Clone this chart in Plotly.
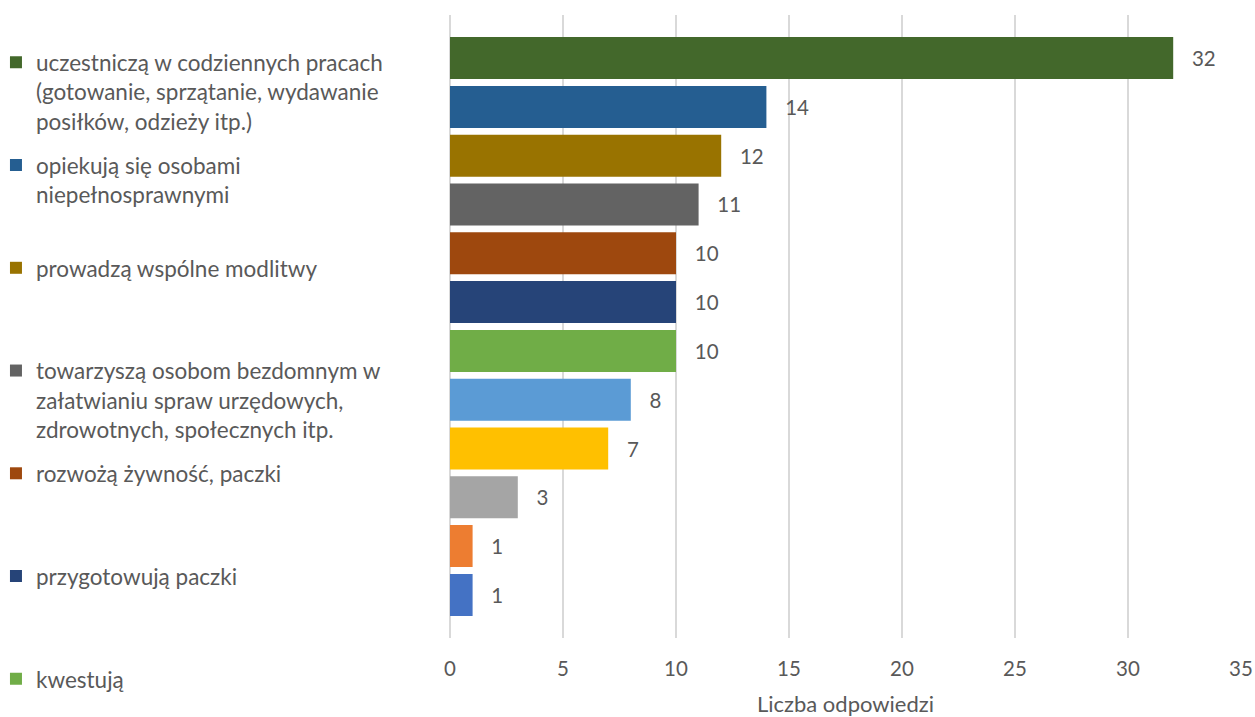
import plotly.graph_objects as go

# Series in Excel order (first = bottom bar)
names = [
    "", "", "", "", "",
    "kwestują",
    "przygotowują paczki",
    "rozwożą żywność, paczki",
    "towarzyszą osobom bezdomnym w<br>załatwianiu spraw urzędowych,<br>zdrowotnych, społecznych itp.",
    "prowadzą wspólne modlitwy",
    "opiekują się osobami<br>niepełnosprawnymi",
    "uczestniczą w codziennych pracach<br>(gotowanie, sprzątanie, wydawanie<br>posiłków, odzieży itp.)",
]
values = [1, 1, 3, 7, 8, 10, 10, 10, 11, 12, 14, 32]
colors = ["#4472C4", "#ED7D31", "#A5A5A5", "#FFC000", "#5B9BD5", "#70AD47",
          "#264478", "#9E480E", "#636363", "#997300", "#255E91", "#43682B"]
show_in_legend = [False, False, False, False, False, True, True, True, True, True, True, True]
category = [""]
xticks = [0, 5, 10, 15, 20, 25, 30, 35]
axis_title = "Liczba odpowiedzi"

FONT = "Lato"
TXT = "#595959"

def pad(label, lines=3):
    n = label.count("<br>") + 1
    return label + "<br>\u00a0" * max(0, lines - n)

fig = go.Figure()
for i, (n, v, c, s) in enumerate(zip(names, values, colors, show_in_legend)):
    legend_name = n if n == "kwestują" else pad(n)
    fig.add_trace(go.Bar(
        x=[v], y=category, orientation="h", name=legend_name,
        marker=dict(color=c, line=dict(width=0)),
        text=[v], texttemplate="\u00a0\u00a0\u00a0%{text}", textposition="outside",
        textfont=dict(family=FONT, size=20.5, color=TXT),
        cliponaxis=False,
        showlegend=s, legendgroup=f"g{i}", legendrank=1000 - i,
    ))

fig.update_layout(
    width=1255, height=717,
    barmode="group", bargap=0.06, bargroupgap=0.14,
    paper_bgcolor="white", plot_bgcolor="white",
    margin=dict(l=450, r=14, t=15, b=79, autoexpand=False),
    font=dict(family=FONT, size=20, color=TXT),
    legend=dict(
        xref="paper", yref="paper", x=-0.574, y=0.958,
        xanchor="left", yanchor="top", maxheight=717,
        traceorder="grouped", tracegroupgap=12, valign="top",
        font=dict(family=FONT, size=22.5, color=TXT),
        bgcolor="rgba(0,0,0,0)", borderwidth=0,
    ),
    xaxis=dict(
        range=[0, 35], tickvals=xticks, showgrid=True, gridcolor="#D9D9D9", gridwidth=2,
        zeroline=True, zerolinecolor="#D9D9D9", zerolinewidth=2,
        showline=False, ticks="", ticklabelstandoff=16, automargin=False,
        tickfont=dict(family=FONT, size=20.5, color=TXT),
        title=dict(text=axis_title, standoff=19, font=dict(family=FONT, size=22, color=TXT)),
    ),
    yaxis=dict(showticklabels=False, showgrid=False, zeroline=False, showline=False, ticks="",
               automargin=False),
)

fig.write_html("out.html", config={"displayModeBar": False},
               post_script="document.body.style.margin='0';")
